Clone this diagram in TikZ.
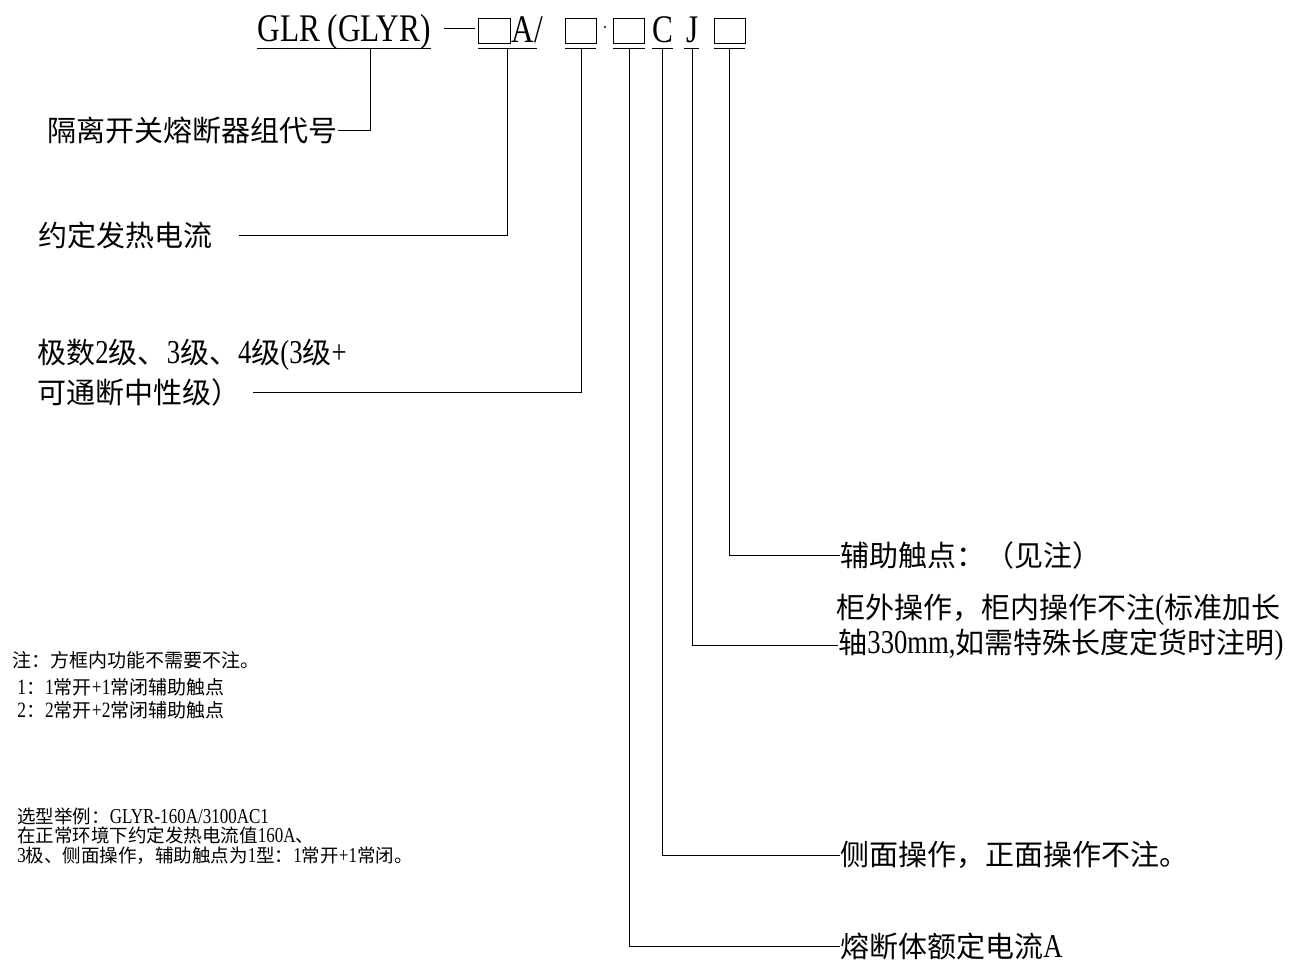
\documentclass[tikz,border=0pt]{standalone}
\usepackage{fontspec}
\setmainfont{Noto Sans CJK SC}
\newfontfamily\latf[FakeStretch=0.8,Scale=1.15]{Liberation Serif}
\newcommand\La[1]{{\latf #1}}
\begin{document}
\begin{tikzpicture}[x=1pt,y=-1pt,line width=0.9pt,
  lbl/.style={anchor=west,inner sep=0pt,font=\fontsize{29}{35}\selectfont},
  note/.style={anchor=west,inner sep=0pt,font=\fontsize{19}{21}\selectfont},
  code/.style={anchor=base west,inner sep=0pt,font=\fontsize{34}{40}\selectfont\latf},
  sq/.style={draw,minimum width=31pt,minimum height=25pt,inner sep=0pt,line width=0.9pt,anchor=north west}]
\useasboundingbox (0,0) rectangle (1303,963);

% code row
\node[code] (t) at (257,42) {GLR (GLYR)};
\draw (444,28) -- (475,28);
\node[sq,minimum width=32pt] (b1) at (478,18) {};
\node[code] (a) at (511,43) {A/};
\node[sq,minimum width=31pt] (b2) at (565,18) {};
\fill (605,27) circle (1.1);
\node[sq] (b3) at (613,18) {};
\node[code] (c) at (652,43) {C};
\node[code] (j) at (686,43) {J};
\node[sq] (b4) at (714,18) {};

% underlines
\draw (257,48) -- (431,48);
\draw (478,48) -- (537,48);
\draw (565,48) -- (596,48);
\draw (613,48) -- (645,48);
\draw (652,48) -- (673,48);
\draw (684,48) -- (699,48);
\draw (714,48) -- (745,48);

\coordinate (p1) at (370,48);
\coordinate (p2) at (507,48);
\coordinate (p3) at (581,48);
\coordinate (p4) at (629,48);
\coordinate (p5) at (662,48);
\coordinate (p6) at (692,48);
\coordinate (p7) at (729,48);

% left labels
\node[lbl] (l1) at (47,130) {隔离开关熔断器组代号};
\node[lbl] (l2) at (38,235) {约定发热电流};
\node[lbl] (l3a) at (37,355) {极数\La{2}级、\La{3}级、\La{4}级\La{(3}级\La{+}};
\node[lbl] (l3b) at (37,392) {可通断中性级）};

% right labels
\node[lbl] (r1) at (840,555) {辅助触点：（见注）};
\node[lbl] (r2a) at (836,610) {柜外操作，柜内操作不注\La{(}标准加长};
\node[lbl] (r2b) at (838,645) {轴\La{330mm,}如需特殊长度定货时注明\La{)}};
\node[lbl] (r3) at (840,855) {侧面操作，正面操作不注。};
\node[lbl] (r4) at (840,946) {熔断体额定电流\La{A}};

% connectors
\draw (p1) |- (l1.east);
\draw (p2) |- ([xshift=26pt]l2.east);
\draw (p3) |- ([xshift=12pt]l3b.east);
\draw (p4) |- (r4.west);
\draw (p5) |- (r3.west);
\draw (p6) |- (r2b.west);
\draw (p7) |- (r1.west);

% notes
\node[note] (n1) at (12,660) {注：方框内功能不需要不注。};
\node[note] (n2) at (17,687) {\La{1}：\La{1}常开\La{+1}常闭辅助触点};
\node[note] (n3) at (17,710) {\La{2}：\La{2}常开\La{+2}常闭辅助触点};
\node[note,anchor=base west,align=left,font=\fontsize{18.5}{19.5}\selectfont] (e) at (17,862)
  {选型举例：\La{GLYR-160A/3100AC1}\\
   在正常环境下约定发热电流值\La{160A}、\\
   \La{3}极、侧面操作，辅助触点为\La{1}型：\La{1}常开\La{+1}常闭。};
\end{tikzpicture}
\end{document}
